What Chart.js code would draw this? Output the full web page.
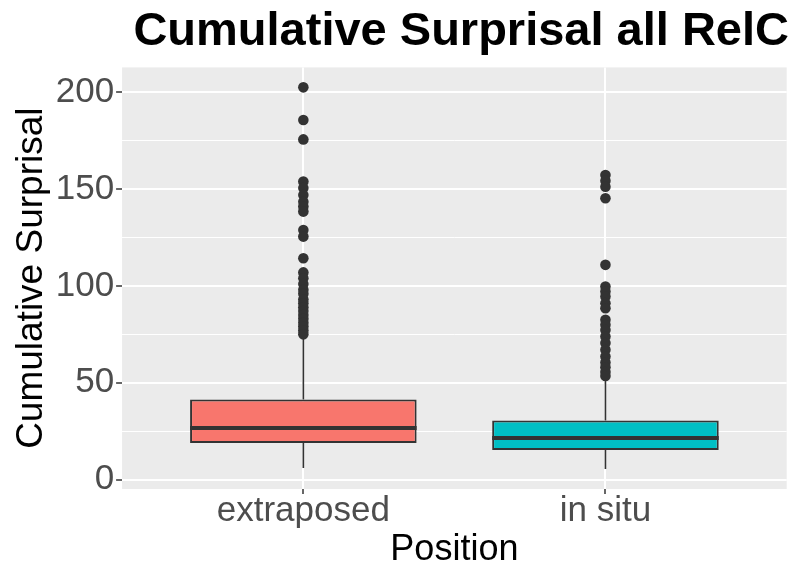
<!DOCTYPE html>
<html>
<head>
<meta charset="utf-8">
<script src="https://cdn.jsdelivr.net/npm/chart.js@4.4.1/dist/chart.umd.min.js"></script>
<style>
  body { margin: 0; background: #ffffff; }
  #wrap { width: 792px; height: 565px; }
</style>
</head>
<body>
<div id="wrap"><canvas id="myChart" width="792" height="565"></canvas></div>
<script>
// categories and box statistics
const categories = ['extraposed', 'in situ'];
const categoryPos = [1, 2];
const whiskerLow = [6.0, 5.4];
const boxLow = [18.8, 15.2];
const boxMedian = [26.6, 21.4];
const boxHigh = [41.3, 30.5];
const whiskerHigh = [72.9, 52.4];
const boxColors = ['#F8766D', '#00BFC4'];

// outliers
const outliersExtraposed = [202.6, 185.7, 175.7, 153.9, 150.6, 147, 143.5, 141, 138.4, 128.9, 125.5, 114.3,
    107, 104, 101, 98, 96, 93, 91, 89, 87, 85, 83, 81, 79, 77, 75];
const outliersInSitu = [157.3, 154.4, 151.3, 145.3, 110.9, 99.7, 97.1, 94.5, 91.1, 88.5, 82.5, 79.9,
    77.3, 73.9, 70.5, 67, 63.5, 60.5, 58, 55.5, 53.5];

// axis ticks
const yTicks = [0, 50, 100, 150, 200];
const yMinorTicks = [25, 75, 125, 175];

const dark = '#333333';

let boxData = categoryPos.map((x, i) => ({ x: x, y: [boxLow[i], boxHigh[i]] }));
let lowerWhisker = categoryPos.map((x, i) => ({ x: x, y: [whiskerLow[i], boxLow[i]] }));
let upperWhisker = categoryPos.map((x, i) => ({ x: x, y: [boxHigh[i], whiskerHigh[i]] }));
let outlierData = outliersExtraposed.map(v => ({ x: categoryPos[0], y: v }))
    .concat(outliersInSitu.map(v => ({ x: categoryPos[1], y: v })));

// grey panel behind the plot
const panelBackground = {
    id: 'panelBackground',
    beforeDraw(chart) {
        const { ctx, chartArea } = chart;
        ctx.save();
        ctx.fillStyle = '#EBEBEB';
        ctx.fillRect(chartArea.left, chartArea.top, chartArea.right - chartArea.left, chartArea.bottom - chartArea.top);
        ctx.restore();
    }
};

// median line across each box
const medianLines = {
    id: 'medianLines',
    afterDatasetsDraw(chart) {
        const { ctx } = chart;
        const yScale = chart.scales.y;
        const meta = chart.getDatasetMeta(0);
        ctx.save();
        ctx.strokeStyle = dark;
        ctx.lineWidth = 4;
        meta.data.forEach((bar, i) => {
            const { x, width } = bar.getProps(['x', 'width'], true);
            const y = yScale.getPixelForValue(boxMedian[i]);
            ctx.beginPath();
            ctx.moveTo(x - width / 2, y);
            ctx.lineTo(x + width / 2, y);
            ctx.stroke();
        });
        ctx.restore();
    }
};

let ctx = document.getElementById("myChart").getContext("2d");
let myChart = new Chart(ctx, {
    type: "bar",
    data: {
        datasets: [
            {
                label: 'box',
                data: boxData,
                backgroundColor: boxColors,
                borderColor: dark,
                borderWidth: 2,
                borderSkipped: false,
                grouped: false,
                barPercentage: 0.75,
                categoryPercentage: 1,
                order: 1
            },
            {
                label: 'lower whisker',
                data: lowerWhisker,
                backgroundColor: dark,
                borderWidth: 0,
                grouped: false,
                maxBarThickness: 1.6,
                order: 2
            },
            {
                label: 'upper whisker',
                data: upperWhisker,
                backgroundColor: dark,
                borderWidth: 0,
                grouped: false,
                maxBarThickness: 1.6,
                order: 2
            },
            {
                type: 'line',
                label: 'outliers',
                data: outlierData,
                showLine: false,
                pointRadius: 5.3,
                pointHoverRadius: 5.3,
                pointBorderWidth: 0,
                pointBackgroundColor: dark,
                order: 0
            }
        ]
    },
    options: {
        responsive: false,
        animation: false,
        layout: {
            padding: { left: 11, right: 3, top: 0, bottom: 0 }
        },
        plugins: {
            legend: { display: false },
            tooltip: { enabled: false },
            title: {
                display: true,
                text: 'Cumulative Surprisal all RelC',
                align: 'end',
                color: '#000000',
                font: { family: 'Liberation Sans, Arial, sans-serif', size: 47, weight: 'bold', lineHeight: 1.2 },
                padding: { top: 4, bottom: 7 }
            }
        },
        scales: {
            x: {
                type: 'linear',
                min: 0.4,
                max: 2.6,
                offset: false,
                afterBuildTicks: (scale) => {
                    scale.ticks = categoryPos.map(v => ({ value: v }));
                },
                ticks: {
                    callback: (value) => categories[categoryPos.indexOf(value)],
                    color: '#4D4D4D',
                    padding: 0,
                    font: { family: 'Liberation Sans, Arial, sans-serif', size: 35, lineHeight: 1 }
                },
                grid: {
                    offset: false,
                    color: '#FFFFFF',
                    lineWidth: 2,
                    tickColor: dark,
                    tickLength: 5,
                    tickWidth: 1.5
                },
                border: { display: false },
                title: {
                    display: true,
                    text: 'Position',
                    color: '#000000',
                    padding: { top: 3, bottom: -3 },
                    font: { family: 'Liberation Sans, Arial, sans-serif', size: 36, lineHeight: 1 }
                }
            },
            y: {
                min: -4.9,
                max: 212.9,
                afterBuildTicks: (scale) => {
                    scale.ticks = yTicks.concat(yMinorTicks).sort((a, b) => a - b).map(v => ({ value: v }));
                },
                ticks: {
                    callback: (value) => yTicks.includes(value) ? value : '',
                    color: '#4D4D4D',
                    padding: 2,
                    font: { family: 'Liberation Sans, Arial, sans-serif', size: 35, lineHeight: 1 }
                },
                grid: {
                    color: '#FFFFFF',
                    lineWidth: (c) => yTicks.includes(c.tick.value) ? 2 : 1,
                    tickColor: (c) => yTicks.includes(c.tick.value) ? dark : 'rgba(0,0,0,0)',
                    tickLength: 6,
                    tickWidth: 1.5
                },
                border: { display: false },
                title: {
                    display: true,
                    text: 'Cumulative Surprisal',
                    color: '#000000',
                    padding: { top: 0, bottom: 2 },
                    font: { family: 'Liberation Sans, Arial, sans-serif', size: 37, lineHeight: 1.1 }
                }
            }
        }
    },
    plugins: [panelBackground, medianLines]
});
</script>
</body>
</html>
